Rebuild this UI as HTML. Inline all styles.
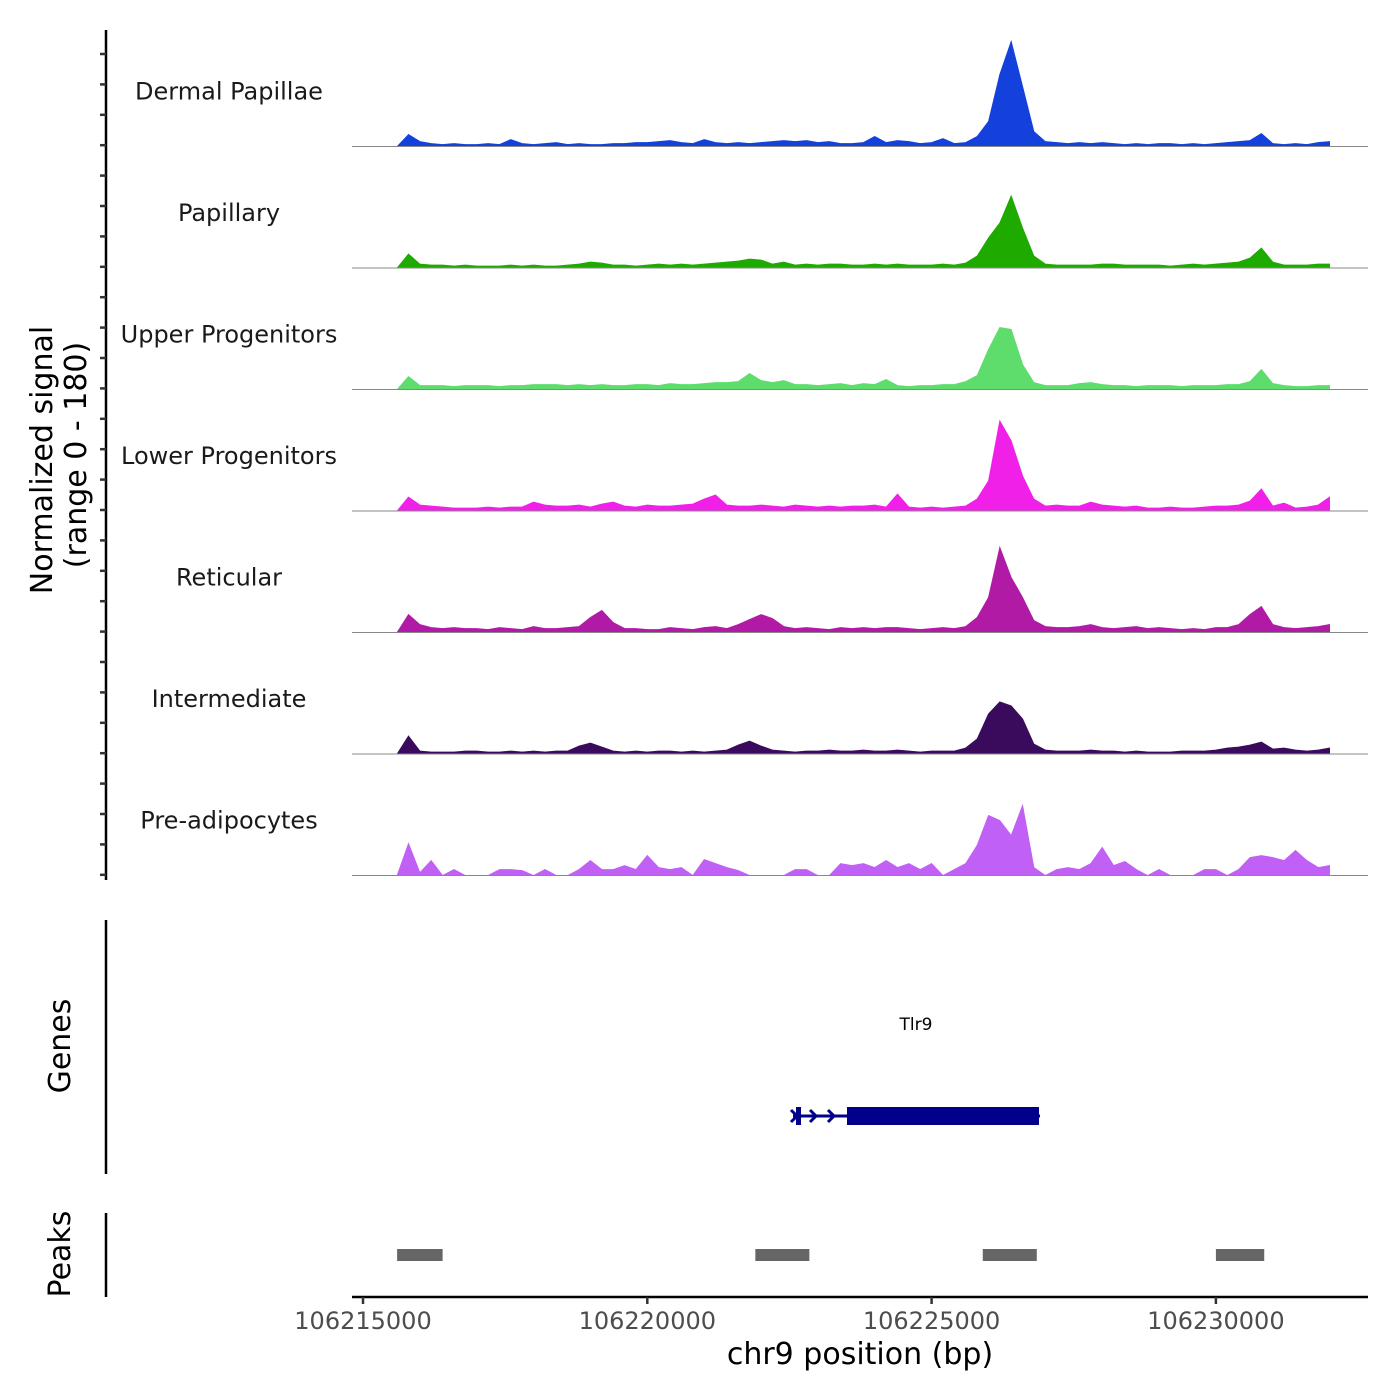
<!DOCTYPE html>
<html><head><meta charset="utf-8">
<style>
html,body{margin:0;padding:0;background:#fff;}
svg{display:block;font-family:"DejaVu Sans","Liberation Sans",sans-serif;}
</style></head>
<body>
<svg id="chart" width="1400" height="1400" viewBox="0 0 1400 1400">
  <g id="tracks"></g>
  <g>
    <line x1="106" y1="30" x2="106" y2="880" stroke="#000" stroke-width="2.5"/>
    <g id="yticks"></g>
    <text transform="translate(52,460) rotate(-90)" text-anchor="middle" font-size="30" fill="#000">Normalized signal</text>
    <text transform="translate(86,455) rotate(-90)" text-anchor="middle" font-size="30" fill="#000">(range 0 - 180)</text>
  </g>
  <g>
    <line x1="106" y1="920" x2="106" y2="1174" stroke="#000" stroke-width="2.5"/>
    <text transform="translate(70,1046) rotate(-90)" text-anchor="middle" font-size="30">Genes</text>
    <text x="916" y="1030" text-anchor="middle" font-size="17">Tlr9</text>
    <g fill="#00008B" stroke="#00008B">
      <line x1="793" y1="1116" x2="1040" y2="1116" stroke-width="3"/>
      <rect x="796" y="1107" width="5" height="18" stroke="none"/>
      <rect x="847" y="1107" width="192" height="18" stroke="none"/>
      <polyline points="791,1110 797,1116 791,1122" fill="none" stroke-width="3"/>
      <polyline points="810,1110 816,1116 810,1122" fill="none" stroke-width="3"/>
      <polyline points="828,1110 834,1116 828,1122" fill="none" stroke-width="3"/>
    </g>
  </g>
  <g>
    <line x1="106" y1="1213" x2="106" y2="1297" stroke="#000" stroke-width="2.5"/>
    <text transform="translate(70,1254) rotate(-90)" text-anchor="middle" font-size="30">Peaks</text>
    <g id="peaks"></g>
  </g>
  <g>
    <line x1="352" y1="1297" x2="1368" y2="1297" stroke="#000" stroke-width="2.5"/>
    <g id="xticks"></g>
    <text x="860" y="1364" text-anchor="middle" font-size="30">chr9 position (bp)</text>
  </g>
</svg>
<script>
const binStart = 106215600;
const binSize = 200;
const trackNames = ["Dermal Papillae","Papillary","Upper Progenitors","Lower Progenitors","Reticular","Intermediate","Pre-adipocytes"];
const trackColors = ["#1440DC","#1FAA00","#5EDC6C","#F020E8","#B01AA5","#3A0A5C","#C060F4"];
const dermalPapillae = [0,12,5,3,2,3,2,2,3,2, 7,3,2,3,4,2,3,2,2,3, 3,4,4,5,6,4,3,7,4,3, 4,3,4,5,6,5,6,4,5,3, 3,4,10,4,6,5,3,4,8,3, 4,10,25,72,105,60,15,5,4,3, 4,3,4,3,2,3,2,3,3,2, 3,2,3,4,5,6,13,3,2,3, 2,4,5];
const papillary = [0,14,4,3,3,2,3,2,2,2, 3,2,3,2,2,3,4,6,5,3, 3,2,3,4,3,4,3,4,5,6, 7,9,8,4,6,3,4,3,4,4, 3,3,4,3,4,3,3,3,4,3, 5,12,30,45,72,40,12,4,3,3, 3,3,4,4,3,3,3,3,2,3, 4,3,4,5,6,10,20,6,3,3, 3,4,4];
const upperProgenitors = [0,13,4,4,4,3,4,4,4,3, 4,4,5,5,5,4,5,4,5,4, 4,5,5,4,6,5,5,6,7,7, 8,16,9,7,9,5,5,4,5,6, 4,6,5,10,4,3,4,4,5,5, 8,14,40,62,60,25,7,4,4,4, 6,7,5,4,4,3,4,4,4,3, 4,4,4,5,5,8,20,6,4,3, 3,4,4];
const lowerProgenitors = [0,14,6,5,4,3,3,3,4,3, 4,4,9,6,5,5,6,4,7,9, 5,4,6,5,5,6,7,12,16,6, 5,5,6,5,4,6,5,4,5,4, 5,5,6,4,17,4,3,4,3,4, 5,12,30,90,70,35,12,5,6,5, 5,9,6,5,4,5,3,3,4,3, 3,4,5,5,6,10,22,5,8,3, 4,6,14];
const reticular = [0,18,8,5,4,5,4,4,3,5, 4,3,6,4,4,5,6,15,22,10, 4,4,3,3,5,4,3,5,6,4, 8,13,18,14,6,4,5,4,3,5, 4,5,4,5,5,4,3,4,5,4, 6,15,35,85,55,35,12,6,5,5, 6,8,5,4,5,6,4,5,4,3, 4,3,5,5,8,18,26,8,5,4, 5,6,8];
const intermediate = [0,18,3,2,2,2,3,3,2,2, 3,2,3,2,3,3,8,11,7,3, 2,3,2,3,3,2,3,2,3,4, 9,13,8,4,3,2,3,3,4,3, 3,4,3,3,4,3,2,3,3,3, 6,15,40,52,48,35,10,4,3,3, 3,4,3,3,2,3,2,2,2,3, 3,3,4,6,7,9,12,5,6,4, 3,4,6];
const preAdipocytes = [0,32,3,15,0,6,0,0,0,6, 6,5,0,6,0,0,6,15,6,6, 10,6,20,8,6,8,0,16,12,8, 5,0,0,0,0,6,6,0,0,12, 10,12,8,15,8,12,6,12,0,6, 12,30,60,55,40,70,8,0,6,8, 6,12,28,10,14,6,0,6,0,0, 0,6,6,0,6,18,20,18,15,25, 15,8,10];
const seriesList = [dermalPapillae,papillary,upperProgenitors,lowerProgenitors,reticular,intermediate,preAdipocytes];
const xTickValues = [106215000,106220000,106225000,106230000];
const xTickLabels = ["106215000","106220000","106225000","106230000"];
const peakStarts = [106215600,106221900,106225900,106230000];
const peakEnds = [106216400,106222850,106226850,106230850];

const NS = "http://www.w3.org/2000/svg";
function xScale(bp){ return 363 + (bp - 106215000) * (284.3/5000); }
const yMax = 120; const trackH = 121.5; const firstBase = 146.5;
function baseY(k){ return firstBase + k*trackH; }
function yScale(v,k){ return baseY(k) - v/yMax*trackH*0.99; }
function mk(tag, attrs, parent){ const e=document.createElementNS(NS,tag); for(const a in attrs) e.setAttribute(a,attrs[a]); parent.appendChild(e); return e; }

const tracks = document.getElementById('tracks');
seriesList.forEach((vals,k)=>{
  const g = mk('g',{},tracks);
  
  
  let pts = [];
  pts.push(xScale(binStart).toFixed(1)+','+baseY(k));
  vals.forEach((v,i)=>{ pts.push(xScale(binStart+i*binSize).toFixed(1)+','+yScale(v,k).toFixed(1)); });
  pts.push(xScale(binStart+(vals.length-1)*binSize).toFixed(1)+','+baseY(k));
  const area = mk('polygon',{points:pts.join(' '),fill:trackColors[k],stroke:trackColors[k],'stroke-width':0.8},g);
  
  
  const bl = mk('line',{x1:352,x2:1368,y1:baseY(k),y2:baseY(k),stroke:'#888','stroke-width':1},g);
  
  
  const t = mk('text',{x:229,y:baseY(k)-47,'text-anchor':'middle','font-size':24,fill:'#1a1a1a'},g);
  t.textContent = trackNames[k];
  
  
});

const yt = document.getElementById('yticks');
for(let i=0;i<28;i++){
  const y = 54 + i*30.4;
  const l = mk('line',{x1:100,x2:106,y1:y,y2:y,stroke:'#333','stroke-width':2.5},yt);
  
  
}

const xt = document.getElementById('xticks');
xTickValues.forEach((v,i)=>{
  const x = xScale(v);
  const l = mk('line',{x1:x,x2:x,y1:1297,y2:1304,stroke:'#333','stroke-width':2.5},xt);
  
  
  const t = mk('text',{x:x,y:1329,'text-anchor':'middle','font-size':24,fill:'#4d4d4d'},xt);
  t.textContent = xTickLabels[i];
  
  
});

const pk = document.getElementById('peaks');
peakStarts.forEach((s,i)=>{
  const r = mk('rect',{x:xScale(s),y:1249,width:xScale(peakEnds[i])-xScale(s),height:12,fill:'#666'},pk);
  
  
});
</script>
</body></html>
